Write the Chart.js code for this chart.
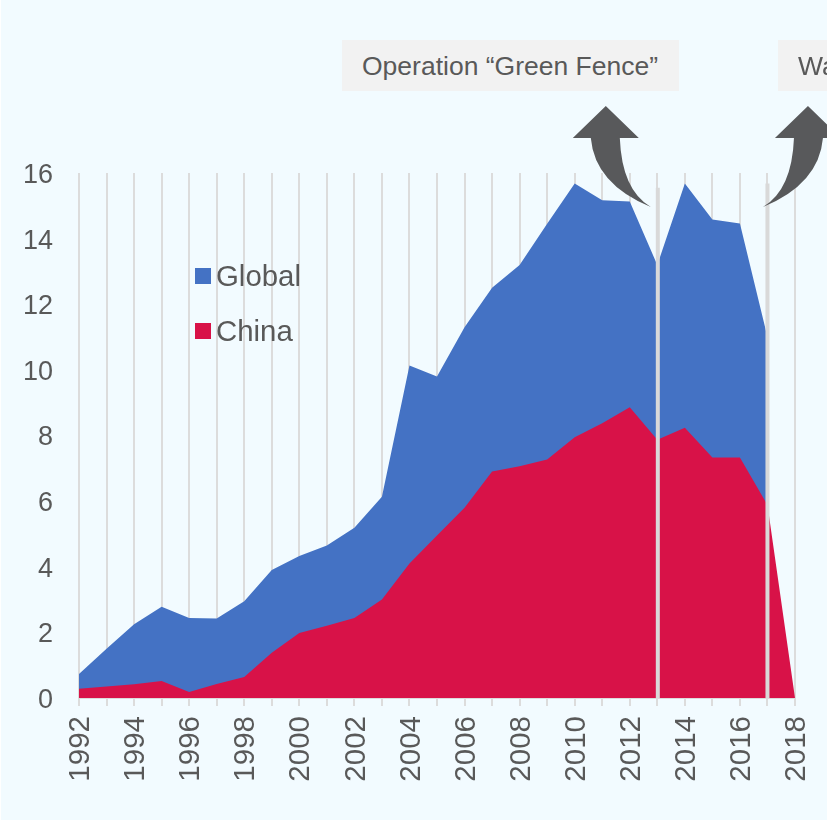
<!DOCTYPE html>
<html><head><meta charset="utf-8">
<style>
html,body{margin:0;padding:0;background:#fff;width:827px;height:822px;overflow:hidden}
#bg{position:absolute;left:1px;top:0;width:826px;height:820px;background:#f2fbff}
#wrap{position:absolute;left:0;top:0;width:827px;height:822px}
canvas{display:block}
.box{position:absolute;background:#f2f2f2;color:#595959;font:26.5px "Liberation Sans",Arial,sans-serif;line-height:52px;height:51px;white-space:nowrap;overflow:hidden;box-sizing:border-box;padding-left:20px}
.leg{position:absolute;color:#595959;font:29.4px "Liberation Sans",Arial,sans-serif;line-height:32px;white-space:nowrap}
.leg i{position:absolute;left:-21px;top:8px;width:16px;height:16px}
</style></head>
<body>
<div id="bg"></div>
<div id="wrap"><canvas id="c" width="827" height="822"></canvas></div>
<div class="box" style="left:342px;top:40px;width:337px">Operation “Green Fence”</div>
<div class="box" style="left:778px;top:40px;width:49px">Wa</div>
<div id="legend"></div>
<script src="https://cdn.jsdelivr.net/npm/chart.js@4"></script>
<script>
const categories = ["1992","1993","1994","1995","1996","1997","1998","1999","2000","2001","2002","2003","2004","2005","2006","2007","2008","2009","2010","2011","2012","2013","2014","2015","2016","2017","2018"];
const globalValues = [0.73,1.5,2.25,2.78,2.44,2.42,2.95,3.9,4.33,4.65,5.19,6.13,10.13,9.8,11.3,12.5,13.2,14.45,15.68,15.17,15.13,13.2,15.68,14.58,14.46,11.0,null];
const chinaValues = [0.28,0.35,0.42,0.52,0.18,0.43,0.64,1.38,1.98,2.2,2.44,3.0,4.1,4.95,5.8,6.9,7.06,7.27,7.95,8.37,8.86,7.87,8.24,7.33,7.33,5.88,0];
const eventYears = ["2013","2017"];
const eventTops = [15.55,15.68];
const arrowDirs = [-1,1];

const eventPlugin = {
  id:'events',
  afterDatasetsDraw(chart){
    const {ctx,scales:{x,y}} = chart;
    ctx.save();
    eventYears.forEach((yr,i)=>{
      const px = x.getPixelForValue(categories.indexOf(yr));
      ctx.fillStyle='#d9d9d9';
      const top=y.getPixelForValue(eventTops[i]);
      ctx.fillRect(px-2+(i?0:0.5),top,4,y.getPixelForValue(0)-top);
      const d=arrowDirs[i];
      const tx=px+(i?-4.5:-6.5), ty=207;
      ctx.fillStyle='#58595b';
      ctx.beginPath();
      ctx.moveTo(tx,ty);
      ctx.quadraticCurveTo(tx+d*56,ty-23,tx+d*60,138);
      ctx.lineTo(tx+d*78,138);
      ctx.lineTo(tx+d*45,106);
      ctx.lineTo(tx+d*12,138);
      ctx.lineTo(tx+d*31,138);
      ctx.quadraticCurveTo(tx+d*29,ty-17,tx,ty);
      ctx.closePath();
      ctx.fill();
    });
    ctx.restore();
  }
};

const chart = new Chart(document.getElementById('c'),{
  type:'line',
  data:{labels:categories,datasets:[
    {label:'Global',data:globalValues,backgroundColor:'#4472c4',borderWidth:0,pointRadius:0,fill:'origin',order:2,spanGaps:false},
    {label:'China',data:chinaValues,backgroundColor:'#d81248',borderWidth:0,pointRadius:0,fill:'origin',order:1}
  ]},
  options:{
    responsive:false,animation:false,
    layout:{autoPadding:false,padding:{top:173,right:32,left:0,bottom:0}},
    plugins:{legend:{display:false},tooltip:{enabled:false},title:{display:false}},
    scales:{
      x:{
        type:'category',offset:false,
        afterFit(s){s.height=124;s.paddingLeft=0;s.paddingRight=0;},
        grid:{display:true,color:'#dcdcdc',lineWidth:2,tickLength:8,drawOnChartArea:true,drawTicks:true},
        border:{display:true,color:'#dcdcdc',width:2},
        ticks:{autoSkip:false,minRotation:90,maxRotation:90,padding:10,labelOffset:2,color:'#595959',
          font:{family:'"Liberation Sans",Arial,sans-serif',size:29.5},
          callback(v,i){return i%2===0?this.getLabelForValue(v):'';}}
      },
      y:{
        min:0,max:16,
        afterFit(s){s.width=79;s.paddingTop=0;s.paddingBottom=0;},
        grid:{display:false},
        border:{display:false},
        ticks:{stepSize:2,padding:18,labelOffset:2.5,color:'#595959',
          font:{family:'"Liberation Sans",Arial,sans-serif',size:27}}
      }
    }
  },
  plugins:[eventPlugin]
});

const lg=document.getElementById('legend');
const legTops=[260,315];
chart.data.datasets.forEach((ds,i)=>{
  const el=document.createElement('div');
  el.className='leg';
  el.style.left='216px';el.style.top=legTops[i]+'px';
  el.innerHTML='<i style="background:'+ds.backgroundColor+'"></i>'+ds.label;
  lg.appendChild(el);
});
</script>
</body></html>
